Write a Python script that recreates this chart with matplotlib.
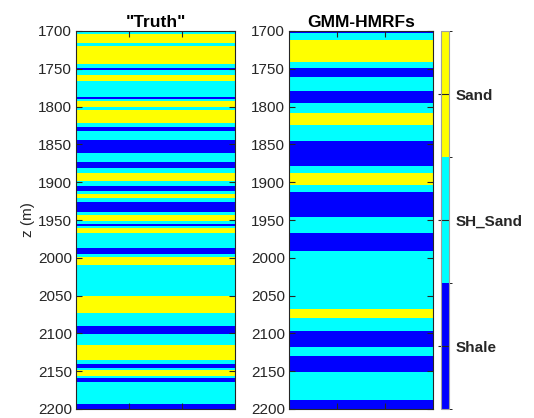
import numpy as np
import matplotlib
matplotlib.use("Agg")
import matplotlib.pyplot as plt
from matplotlib.colors import ListedColormap, BoundaryNorm

plt.rcParams['font.family'] = ['Liberation Sans', 'DejaVu Sans']

# facies codes: 0 = Shale, 1 = SH_Sand, 2 = Sand
facies_names = ["Shale", "SH_Sand", "Sand"]
facies_colors = ["#0000ff", "#00ffff", "#ffff00"]

# "Truth": layer top depths (m) and facies; last boundary is the base
truth_tops = [1700, 1703.5, 1716, 1720, 1743.5, 1748.5, 1751.5, 1758, 1766, 1787,
              1790, 1793, 1801, 1805, 1822, 1826.5, 1832, 1844, 1861, 1873,
              1881, 1887.5, 1898.5, 1904.5, 1911.5, 1916, 1920.5, 1926, 1940, 1944,
              1951, 1955, 1957.5, 1961, 1967.5, 1986.5, 1995, 1999.5, 2009.5, 2050,
              2073.5, 2090, 2101, 2116, 2135, 2140.5, 2146, 2149, 2156, 2159,
              2164.5, 2194, 2200]
truth_facies = [1, 2, 1, 2, 1, 0, 1, 2, 1, 0,
                1, 2, 1, 2, 1, 0, 1, 0, 1, 0,
                1, 2, 1, 0, 1, 2, 1, 0, 1, 2,
                1, 0, 1, 2, 1, 0, 1, 2, 1, 2,
                1, 0, 1, 2, 1, 0, 1, 2, 1, 0,
                1, 0]

# GMM-HMRFs result
gmm_tops = [1700, 1702, 1712, 1740.5, 1749, 1761, 1779, 1795, 1808, 1824,
            1845, 1878.5, 1887.5, 1904, 1912.5, 1946.5, 1967, 1991, 2067.5, 2079,
            2096.5, 2117.5, 2130, 2150.5, 2188, 2200]
gmm_facies = [0, 1, 2, 1, 0, 1, 0, 1, 2, 1,
              0, 1, 2, 1, 0, 1, 0, 1, 2, 1,
              0, 1, 0, 1, 0]

yticks = [1700, 1750, 1800, 1850, 1900, 1950, 2000, 2050, 2100, 2150, 2200]

cmap = ListedColormap(facies_colors)
norm = BoundaryNorm([-0.5, 0.5, 1.5, 2.5], cmap.N)

W, H = 534, 418
fig = plt.figure(figsize=(W / 100, H / 100), dpi=100)

def ax_rect(x0, x1, y0, y1):
    return [x0 / W, 1 - y1 / H, (x1 - x0) / W, (y1 - y0) / H]

panels = [
    ("\"Truth\"", truth_tops, truth_facies, ax_rect(76, 235, 31, 409)),
    ("GMM-HMRFs", gmm_tops, gmm_facies, ax_rect(289, 433, 31, 409)),
]

edge_col = "#262626"
mesh = None
for i, (title, tops, fac, rect) in enumerate(panels):
    ax = fig.add_axes(rect)
    C = np.array(fac, dtype=float).reshape(-1, 1)
    mesh = ax.pcolormesh([0, 3], tops, C, cmap=cmap, norm=norm, shading='flat')
    ax.set_xlim(0, 3)
    ax.set_ylim(2200, 1700)
    ax.set_xticks([1, 2])
    ax.set_xticklabels([])
    ax.set_yticks(yticks)
    ax.tick_params(axis='both', direction='in', length=4, width=0.8,
                   colors=edge_col, labelcolor='#262626', labelsize=11,
                   top=True, right=True, pad=3)
    for s in ax.spines.values():
        s.set_color(edge_col)
        s.set_linewidth(0.8)
    ax.set_title(title, fontsize=12.5, fontweight='bold', color='black', pad=3)
    if i == 0:
        ax.set_ylabel("z (m)", fontsize=11, color='#262626', labelpad=2)

cax = fig.add_axes(ax_rect(441, 449, 31, 409))
cb = fig.colorbar(mesh, cax=cax, ticks=[0, 1, 2])
cb.ax.set_yticklabels(facies_names)
cb.ax.tick_params(direction='in', length=8, width=0.8, colors=edge_col,
                  labelcolor='#262626', labelsize=11, pad=5)
for lab in cb.ax.get_yticklabels():
    lab.set_fontweight('bold')
cb.outline.set_edgecolor('#a0a0a0')
cb.outline.set_linewidth(0.8)

fig.savefig("out.png", dpi=100)
